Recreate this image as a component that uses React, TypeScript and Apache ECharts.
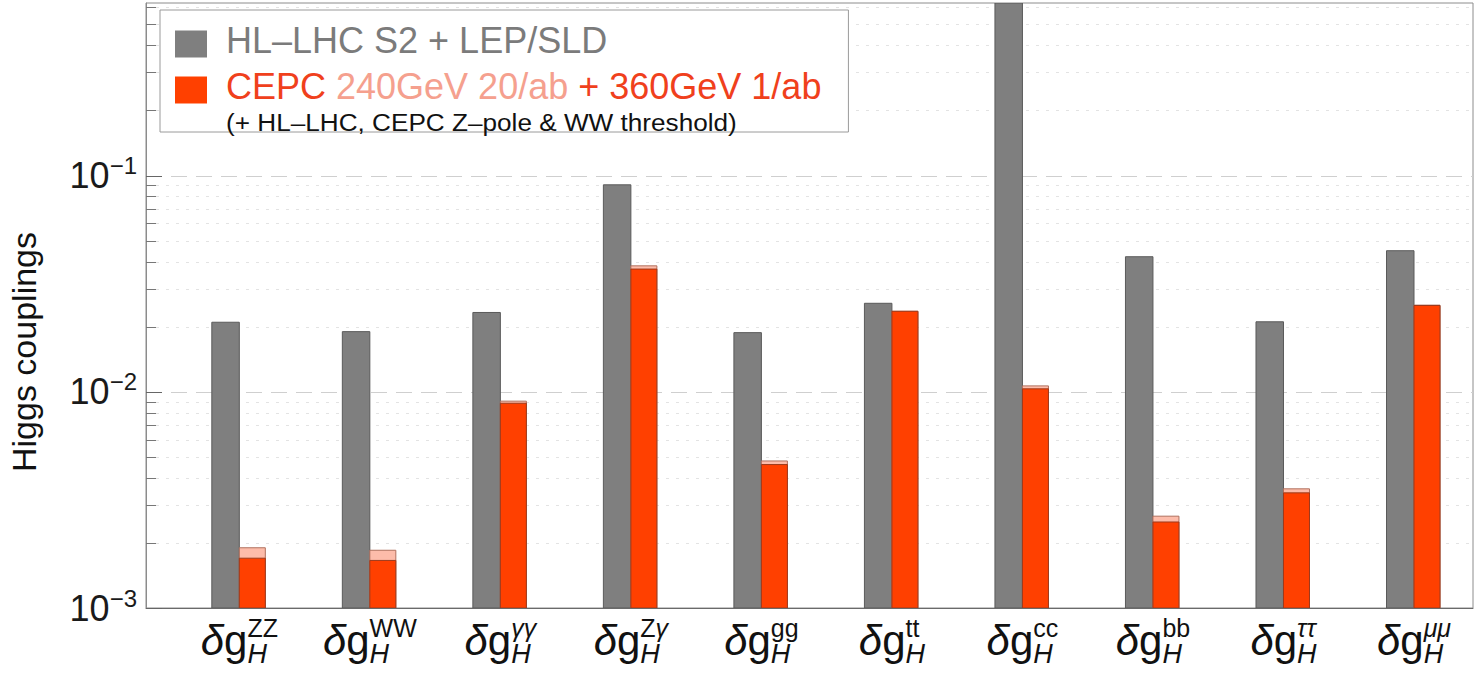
import React, { useEffect, useRef } from 'react';
import * as echarts from 'echarts';

// Coupling channels (superscripts of δg_H)
const channels = ['ZZ', 'WW', 'γγ', 'Zγ', 'gg', 'tt', 'cc', 'bb', 'ττ', 'μμ'];
// Greek characters of the superscripts are set in italic
const greek = 'γτμ';

// Relative precision on the Higgs couplings
const hlLhcLep = [0.0210, 0.0190, 0.0233, 0.0908, 0.0188, 0.0257, 1.2, 0.0422, 0.0211, 0.0450];
const cepc240 = [0.00190, 0.00185, 0.00906, 0.0383, 0.00479, 0.0236, 0.01066, 0.00266, 0.00356, 0.0252];
const cepc240360 = [0.00170, 0.00166, 0.00886, 0.0370, 0.00461, 0.0236, 0.01033, 0.00250, 0.00341, 0.0251];

// Y axis ticks
const majorTicks = [0.001, 0.01, 0.1];
const majorExponents = ['−3', '−2', '−1'];
const minorTicks = [
  0.002, 0.003, 0.004, 0.005, 0.006, 0.007, 0.008, 0.009,
  0.02, 0.03, 0.04, 0.05, 0.06, 0.07, 0.08, 0.09,
  0.2, 0.3, 0.4, 0.5, 0.6,
];

const seriesNames = {
  hl: 'HL–LHC S2 + LEP/SLD',
  c240: 'CEPC 240GeV 20/ab',
  full: 'CEPC 240GeV 20/ab + 360GeV 1/ab',
};
const noteText = '(+ HL–LHC, CEPC Z–pole & WW threshold)';
const yTitle = 'Higgs couplings';

const FONT = '"Liberation Sans", Arial, Helvetica, sans-serif';
const Y_MIN = 0.001;
const Y_MAX = 0.63;
const X_MIN = -0.715;
const X_MAX = 9.452;
const GRAY_W = 27.5;
const RED_W = 26;

const D_SIZE = 42;
const SUB_SIZE = 27;
const SUP_SIZE = 25;

function measure(font: string, s: string): number {
  const ctx = document.createElement('canvas').getContext('2d');
  if (!ctx) return s.length * 12;
  ctx.font = font;
  return ctx.measureText(s).width;
}

function supTokens(s: string): { text: string; italic: boolean }[] {
  return Array.from(s).map((ch) => ({ text: ch, italic: greek.includes(ch) }));
}

export default function App() {
  const ref = useRef<HTMLDivElement>(null);

  useEffect(() => {
    if (!ref.current) return;
    const chart = echarts.init(ref.current, undefined, { renderer: 'svg' });

    // δg_H^{xx}: the subscript and the superscript come from two axes sharing
    // the same scale; paddings give both labels the same total width so that
    // their centred texts line up.
    const wDelta = measure(`italic ${D_SIZE}px ${FONT}`, 'δ') + measure(`${D_SIZE}px ${FONT}`, 'g');
    const wSub = measure(`italic ${SUB_SIZE}px ${FONT}`, 'H');
    const supParts = channels.map(supTokens);
    const wSup = supParts.map((parts) =>
      parts.reduce(
        (acc, t) => acc + measure(`${t.italic ? 'italic ' : ''}${SUP_SIZE}px ${FONT}`, t.text),
        0,
      ),
    );
    const wTail = wSup.map((w) => Math.max(w, wSub));

    const subRich: Record<string, any> = {
      di: { fontFamily: FONT, fontSize: D_SIZE, fontStyle: 'italic', color: '#111', lineHeight: 48, verticalAlign: 'top', padding: [0, 0, 7, 0] },
      dg: { fontFamily: FONT, fontSize: D_SIZE, color: '#111', lineHeight: 48, verticalAlign: 'top', padding: [0, 0, 7, 0] },
    };
    const supRich: Record<string, any> = {};
    channels.forEach((_, i) => {
      subRich[`h${i}`] = {
        fontFamily: FONT,
        fontSize: SUB_SIZE,
        fontStyle: 'italic',
        color: '#111',
        lineHeight: 27,
        verticalAlign: 'bottom',
        padding: [0, wTail[i] - wSub, 0, 0],
      };
      const parts = supParts[i];
      parts.forEach((t, k) => {
        supRich[`u${i}_${k}`] = {
          fontFamily: FONT,
          fontSize: SUP_SIZE,
          fontStyle: t.italic ? 'italic' : 'normal',
          color: '#111',
          lineHeight: 27,
          padding: [0, k === parts.length - 1 ? wTail[i] - wSup[i] : 0, 0, k === 0 ? wDelta : 0],
        };
      });
    });

    const subLabel = (v: number) => {
      const i = Math.round(v);
      return `{di|δ}{dg|g}{h${i}|H}`;
    };
    const supLabel = (v: number) => {
      const i = Math.round(v);
      return supParts[i].map((t, k) => `{u${i}_${k}|${t.text}}`).join('');
    };

    const idx = channels.map((_, i) => i);

    const barItem = (left: number, width: number) => (params: any, api: any) => {
      const x = api.value(0);
      const v = api.value(1);
      const top = api.coord([x, v]);
      const base = api.coord([x, Y_MIN]);
      const yTop = Math.max(top[1], params.coordSys.y);
      return {
        type: 'rect',
        shape: { x: top[0] + left, y: yTop, width, height: base[1] - yTop },
        style: api.style(),
      };
    };

    chart.setOption({
      animation: false,
      backgroundColor: '#ffffff',
      textStyle: { fontFamily: FONT },
      grid: {
        left: 146,
        right: 3,
        top: 3,
        bottom: 69,
        show: true,
        borderColor: '#8c8c8c',
        borderWidth: 1,
        backgroundColor: 'transparent',
      },
      legend: {
        left: 160,
        top: 10,
        orient: 'vertical',
        selectedMode: false,
        data: [
          { name: seriesNames.hl, icon: 'rect' },
          { name: seriesNames.full, icon: 'rect' },
        ],
        itemWidth: 32,
        itemHeight: 27,
        itemGap: 10,
        padding: [12, 27, 28, 15],
        borderColor: '#9a9a9a',
        borderWidth: 1,
        backgroundColor: '#ffffff',
        itemStyle: { borderWidth: 0 },
        formatter: (name: string) =>
          name === seriesNames.hl
            ? `{g|${name}}`
            : '{o|CEPC }{p|240GeV 20/ab}{o| + 360GeV 1/ab}',
        textStyle: {
          padding: [0, 0, 8, 14],
          rich: {
            g: { fontFamily: FONT, fontSize: 36, color: '#7b7b7b', lineHeight: 30 },
            o: { fontFamily: FONT, fontSize: 36, color: '#f0401c', lineHeight: 30 },
            p: { fontFamily: FONT, fontSize: 36, color: '#f5a08e', lineHeight: 30 },
          },
        },
      },
      graphic: [
        {
          type: 'text',
          x: 226,
          y: 110,
          scaleX: 1.09,
          z: 100,
          style: { text: noteText, fontFamily: FONT, fontSize: 24, fill: '#111', verticalAlign: 'top' },
        },
        {
          type: 'text',
          x: 24,
          y: 352,
          rotation: Math.PI / 2,
          style: {
            text: yTitle,
            fontFamily: FONT,
            fontSize: 34,
            fill: '#111',
            align: 'center',
            verticalAlign: 'middle',
          },
        },
      ],
      xAxis: [
        {
          type: 'value',
          min: X_MIN,
          max: X_MAX,
          position: 'bottom',
          axisLine: { show: true, onZero: false, lineStyle: { color: '#6a6a6a', width: 1 } },
          axisTick: { show: false },
          splitLine: { show: false },
          axisLabel: { customValues: idx, margin: 11, formatter: subLabel, rich: subRich },
        },
        {
          type: 'value',
          min: X_MIN,
          max: X_MAX,
          position: 'bottom',
          axisLine: { show: false, onZero: false },
          axisTick: { show: false },
          splitLine: { show: false },
          axisLabel: { customValues: idx, margin: 6, formatter: supLabel, rich: supRich },
        },
      ],
      yAxis: [
        {
          type: 'log',
          logBase: 10,
          min: Y_MIN,
          max: Y_MAX,
          position: 'left',
          axisLine: { show: true, onZero: false, lineStyle: { color: '#8c8c8c', width: 1 } },
          axisTick: { show: true, inside: true, length: 16, customValues: majorTicks, lineStyle: { color: '#666', width: 1 } },
          axisLabel: {
            customValues: majorTicks,
            margin: 9,
            formatter: (v: number) => {
              const i = majorTicks.findIndex((t) => Math.abs(Math.log10(t) - Math.log10(v)) < 1e-6);
              return `{b|10}{s|${majorExponents[i]}}`;
            },
            rich: {
              b: { fontFamily: FONT, fontSize: 36, color: '#1a1a1a', lineHeight: 44 },
              s: { fontFamily: FONT, fontSize: 24, color: '#1a1a1a', lineHeight: 24, verticalAlign: 'top' },
            },
          },
          splitLine: { show: true, lineStyle: { color: '#cfcfcf', width: 1, type: [16, 9] } },
        },
        {
          type: 'log',
          logBase: 10,
          min: Y_MIN,
          max: Y_MAX,
          position: 'left',
          axisLine: { show: false, onZero: false },
          axisTick: { show: true, inside: true, length: 10, customValues: minorTicks, lineStyle: { color: '#777', width: 1 } },
          axisLabel: { show: false },
          splitLine: { show: true, lineStyle: { color: '#e3e3e3', width: 1, type: [3, 7] } },
        },
      ],
      series: [
        {
          name: seriesNames.hl,
          type: 'custom',
          xAxisIndex: 0,
          yAxisIndex: 0,
          clip: true,
          renderItem: barItem(-GRAY_W, GRAY_W),
          itemStyle: { color: '#7f7f7f', borderColor: '#5a5a5a', borderWidth: 1 },
          encode: { x: 0, y: 1 },
          data: hlLhcLep.map((v, i) => [i, v]),
        },
        {
          name: seriesNames.c240,
          type: 'custom',
          xAxisIndex: 0,
          yAxisIndex: 0,
          clip: true,
          renderItem: barItem(0, RED_W),
          itemStyle: { color: '#fdbcaa', borderColor: '#b0705e', borderWidth: 1 },
          encode: { x: 0, y: 1 },
          data: cepc240.map((v, i) => [i, v]),
        },
        {
          name: seriesNames.full,
          type: 'custom',
          xAxisIndex: 0,
          yAxisIndex: 0,
          clip: true,
          renderItem: barItem(0, RED_W),
          itemStyle: { color: '#ff4000', borderColor: '#9c3a1c', borderWidth: 1 },
          encode: { x: 0, y: 1 },
          data: cepc240360.map((v, i) => [i, v]),
        },
      ],
    });

    return () => chart.dispose();
  }, []);

  return (
    <div
      ref={ref}
      style={{ position: 'absolute', left: 0, top: 0, width: 1476, height: 677, background: '#fff' }}
    />
  );
}
